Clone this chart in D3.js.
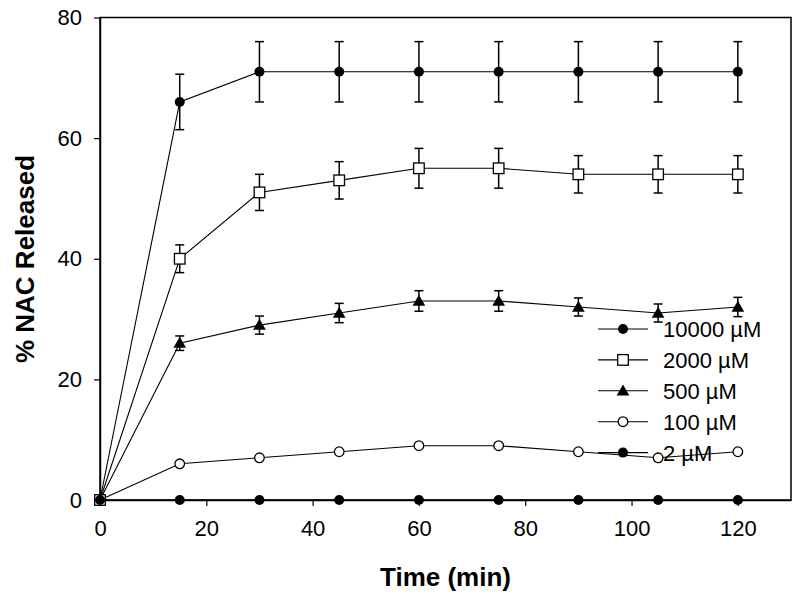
<!DOCTYPE html>
<html><head><meta charset="utf-8">
<script src="https://cdn.jsdelivr.net/npm/d3@7"></script>
<style>body{margin:0;background:#fff}svg{display:block}text{font-family:Arial,"Liberation Sans",sans-serif}</style>
</head><body>
<svg id="c" width="800" height="601"></svg>
<script>
const times = [0, 15, 30, 45, 60, 75, 90, 105, 120];
const seriesNames = ["10000 µM", "2000 µM", "500 µM", "100 µM", "2 µM"];
const seriesMarkers = ["filledCircle", "openSquare", "filledTriangle", "openCircle", "filledCircle"];
const v10000 = [0, 66, 71, 71, 71, 71, 71, 71, 71];
const e10000 = [0, 4.6, 5, 5, 5, 5, 5, 5, 5];
const v2000 = [0, 40, 51, 53, 55, 55, 54, 54, 54];
const e2000 = [0, 2.3, 3, 3.1, 3.3, 3.3, 3.1, 3.1, 3.1];
const v500 = [0, 26, 29, 31, 33, 33, 32, 31, 32];
const e500 = [0, 1.2, 1.5, 1.6, 1.7, 1.7, 1.5, 1.5, 1.6];
const v100 = [0, 6, 7, 8, 9, 9, 8, 7, 8];
const e100 = [0, 0, 0, 0, 0, 0, 0, 0, 0];
const v2 = [0, 0, 0, 0, 0, 0, 0, 0, 0];
const e2 = [0, 0, 0, 0, 0, 0, 0, 0, 0];
const xTicks = [0, 20, 40, 60, 80, 100, 120];
const yTicks = [0, 20, 40, 60, 80];

const values = [v10000, v2000, v500, v100, v2];
const errors = [e10000, e2000, e500, e100, e2];

const svg = d3.select("#c");
const x = d3.scaleLinear().domain([0, 130]).range([100, 791]);
const y = d3.scaleLinear().domain([0, 80]).range([500, 17.5]);

// frame
svg.append("rect").attr("x", 100).attr("y", 17.5).attr("width", 691).attr("height", 482.5)
  .attr("fill", "none").attr("stroke", "#000").attr("stroke-width", 1.5);

const xAxis = svg.append("g").attr("transform", "translate(0,500)")
  .call(d3.axisBottom(x).tickValues(xTicks).tickSize(6).tickPadding(14).tickSizeOuter(0));
const yAxis = svg.append("g").attr("transform", "translate(100,0)")
  .call(d3.axisLeft(y).tickValues(yTicks).tickSize(6).tickPadding(12).tickSizeOuter(0));
[xAxis, yAxis].forEach(a => {
  a.select(".domain").attr("stroke", "#000").attr("stroke-width", 1.5);
  a.selectAll(".tick line").attr("stroke", "#000").attr("stroke-width", 1.2);
  a.selectAll(".tick text").attr("font-size", 22).attr("fill", "#000")
    .attr("font-family", "Arial, 'Liberation Sans', sans-serif");
});

svg.append("text").attr("x", 445.5).attr("y", 586).attr("text-anchor", "middle")
  .attr("font-size", 26).attr("font-weight", "bold").text("Time (min)");
svg.append("text").attr("transform", "translate(34,259) rotate(-90)").attr("text-anchor", "middle")
  .attr("font-size", 26).attr("font-weight", "bold").text("% NAC Released");

const line = d3.line().x((d, i) => x(times[i])).y(d => y(d));

function marker(g, type, cx, cy) {
  if (type === "filledCircle") {
    g.append("circle").attr("cx", cx).attr("cy", cy).attr("r", 5).attr("fill", "#000");
  } else if (type === "openCircle") {
    g.append("circle").attr("cx", cx).attr("cy", cy).attr("r", 4.8).attr("fill", "#fff")
      .attr("stroke", "#000").attr("stroke-width", 1.3);
  } else if (type === "openSquare") {
    g.append("rect").attr("x", cx - 5.3).attr("y", cy - 5.3).attr("width", 10.6).attr("height", 10.6)
      .attr("fill", "#fff").attr("stroke", "#000").attr("stroke-width", 1.3);
  } else if (type === "filledTriangle") {
    g.append("path").attr("d", d3.symbol().type(d3.symbolTriangle).size(70)())
      .attr("transform", `translate(${cx},${cy + 1})`).attr("fill", "#000");
  }
}

// draw series in reverse so the top series end up on top
for (let s = values.length - 1; s >= 0; s--) {
  const g = svg.append("g");
  g.append("path").datum(values[s]).attr("d", line).attr("fill", "none")
    .attr("stroke", "#000").attr("stroke-width", 1.1);
  values[s].forEach((v, i) => {
    const e = errors[s][i];
    if (e > 0) {
      const cx = x(times[i]);
      g.append("line").attr("x1", cx).attr("x2", cx).attr("y1", y(v - e)).attr("y2", y(v + e))
        .attr("stroke", "#000").attr("stroke-width", 1.5);
      [v - e, v + e].forEach(w => g.append("line").attr("x1", cx - 4.5).attr("x2", cx + 4.5)
        .attr("y1", y(w)).attr("y2", y(w)).attr("stroke", "#000").attr("stroke-width", 1.5));
    }
  });
  values[s].forEach((v, i) => marker(g, seriesMarkers[s], x(times[i]), y(v)));
}

// legend
const lg = svg.append("g");
seriesNames.forEach((name, i) => {
  const ly = 329 + i * 30.9;
  lg.append("line").attr("x1", 598).attr("x2", 648).attr("y1", ly).attr("y2", ly)
    .attr("stroke", "#000").attr("stroke-width", 1.1);
  marker(lg, seriesMarkers[i], 623, ly);
  lg.append("text").attr("x", 663).attr("y", ly + 8).attr("font-size", 22).text(name);
});
</script>
</body></html>
